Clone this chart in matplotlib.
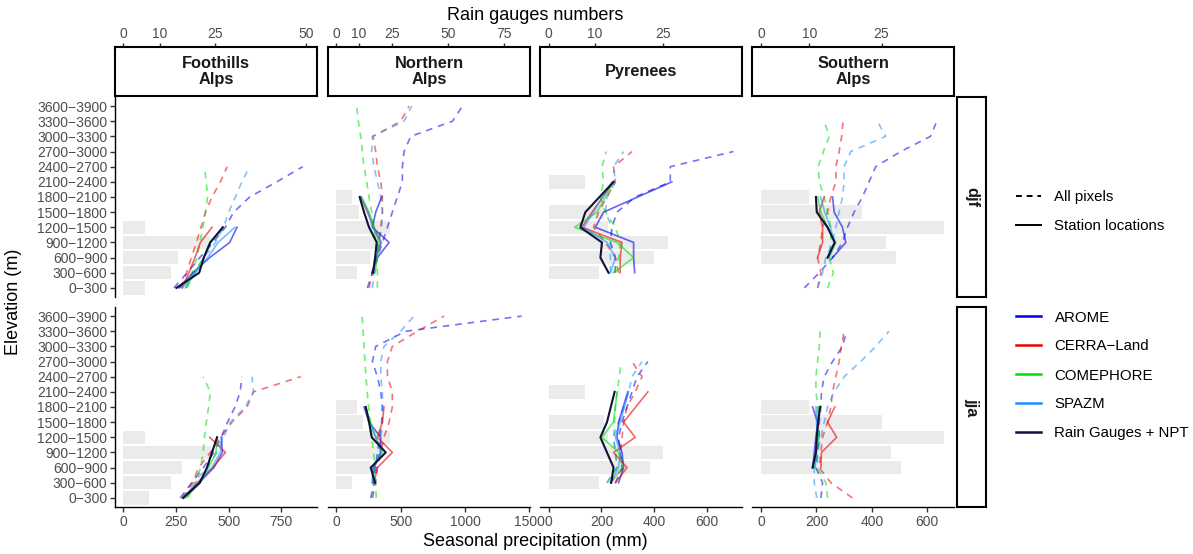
import numpy as np
import matplotlib.pyplot as plt
from matplotlib.lines import Line2D

plt.rcParams['font.family'] = ['Liberation Sans', 'DejaVu Sans']

# Elevation bands (bottom to top)
bands = ["0\u2212300", "300\u2212600", "600\u2212900", "900\u22121200", "1200\u22121500",
         "1500\u22121800", "1800\u22122100", "2100\u22122400", "2400\u22122700", "2700\u22123000",
         "3000\u22123300", "3300\u22123600", "3600\u22123900"]
regions = ["Foothills\nAlps", "Northern\nAlps", "Pyrenees", "Southern\nAlps"]
seasons = ["djf", "jja"]
products = ["AROME", "CERRA\u2212Land", "COMEPHORE", "SPAZM"]
colors = {"AROME": "#0000EE", "CERRA\u2212Land": "#EE0000", "COMEPHORE": "#00E000",
          "SPAZM": "#1E90FF", "Rain Gauges + NPT": "#10103A"}
N = None

# number of rain gauges per band, and the scale used to draw them on the precip axis
gauge_scale = 17.4
foot_djf_gauges = [6, 13, 15, 24, 6, 0, 0, 0, 0, 0, 0, 0, 0]
foot_jja_gauges = [7, 13, 16, 24, 6, 0, 0, 0, 0, 0, 0, 0, 0]
north_djf_gauges = [0, 9, 15, 20, 24, 10, 7, 0, 0, 0, 0, 0, 0]
north_jja_gauges = [0, 7, 15, 20, 24, 12, 9, 0, 0, 0, 0, 0, 0]
pyr_djf_gauges = [0, 11, 23, 26, 13, 12, 0, 8, 0, 0, 0, 0, 0]
pyr_jja_gauges = [0, 11, 22, 25, 13, 12, 0, 8, 0, 0, 0, 0, 0]
south_djf_gauges = [0, 0, 28, 26, 38, 21, 10, 0, 0, 0, 0, 0, 0]
south_jja_gauges = [0, 0, 29, 27, 38, 25, 10, 0, 0, 0, 0, 0, 0]

# ---- Foothills Alps ----
foot_djf_pix = {
    "AROME": [240, 303, 363, 426, 484, 524, 600, 729, 852, N, N, N, N],
    "CERRA\u2212Land": [271, 300, 323, 347, 369, 390, 421, 461, 493, N, N, N, N],
    "COMEPHORE": [295, 326, 350, 363, 378, 390, 400, 394, 385, N, N, N, N],
    "SPAZM": [303, 334, 382, 437, 476, 500, 532, 563, 600, N, N, N, N]}
foot_djf_sta = {
    "AROME": [265, 330, 410, 505, 540, N, N, N, N, N, N, N, N],
    "CERRA\u2212Land": [279, 311, 340, 366, 421, N, N, N, N, N, N, N, N],
    "COMEPHORE": [295, 342, 382, 410, 476, N, N, N, N, N, N, N, N],
    "SPAZM": [280, 340, 400, 450, 530, N, N, N, N, N, N, N, N],
    "Rain Gauges + NPT": [252, 360, 382, 413, 472, N, N, N, N, N, N, N, N]}
foot_jja_pix = {
    "AROME": [270, 325, 380, 430, 465, 495, 530, 555, 563, N, N, N, N],
    "CERRA\u2212Land": [279, 327, 358, 413, 461, 516, 587, 618, 843, N, N, N, N],
    "COMEPHORE": [306, 342, 366, 379, 385, 394, 405, 413, 379, N, N, N, N],
    "SPAZM": [287, 334, 397, 445, 476, 508, 579, 618, 611, N, N, N, N]}
foot_jja_sta = {
    "AROME": [285, 360, 430, 470, 465, N, N, N, N, N, N, N, N],
    "CERRA\u2212Land": [285, 350, 425, 485, 410, N, N, N, N, N, N, N, N],
    "COMEPHORE": [295, 365, 405, 440, 445, N, N, N, N, N, N, N, N],
    "SPAZM": [280, 355, 420, 460, 470, N, N, N, N, N, N, N, N],
    "Rain Gauges + NPT": [284, 363, 397, 421, 445, N, N, N, N, N, N, N, N]}

# ---- Northern Alps ----
north_djf_pix = {
    "AROME": [241, 280, 319, 358, 397, 435, 474, 513, 513, 526, 578, 902, 980],
    "CERRA\u2212Land": [254, 280, 306, 327, 345, 358, 358, 345, 319, 306, 285, 500, 565],
    "COMEPHORE": [319, 319, 314, 306, 293, 275, 254, 236, 215, 202, 189, 171, 158],
    "SPAZM": [280, 293, 311, 332, 352, 358, 345, 319, 293, 275, 280, 526, 586]}
north_djf_sta = {
    "AROME": [N, 275, 319, 410, 280, 306, 352, N, N, N, N, N, N],
    "CERRA\u2212Land": [N, 280, 311, 345, 293, 241, 189, N, N, N, N, N, N],
    "COMEPHORE": [N, 301, 319, 332, 293, 254, 197, N, N, N, N, N, N],
    "SPAZM": [N, 293, 306, 352, 280, 249, 189, N, N, N, N, N, N],
    "Rain Gauges + NPT": [N, 285, 301, 314, 254, 215, 181, N, N, N, N, N, N]}
north_jja_pix = {
    "AROME": [267, 293, 306, 319, 337, 352, 358, 345, 319, 280, 306, 539, 1440],
    "CERRA\u2212Land": [280, 306, 319, 345, 370, 410, 435, 435, 397, 397, 435, 630, 837],
    "COMEPHORE": [310, 305, 300, 290, 275, 262, 250, 240, 230, 222, 215, 208, 200],
    "SPAZM": [280, 293, 306, 327, 345, 358, 358, 358, 345, 345, 370, 500, 604]}
north_jja_sta = {
    "AROME": [N, 280, 293, 345, 345, 254, 215, N, N, N, N, N, N],
    "CERRA\u2212Land": [N, 293, 319, 435, 319, 358, 370, N, N, N, N, N, N],
    "COMEPHORE": [N, 301, 280, 358, 306, 267, 228, N, N, N, N, N, N],
    "SPAZM": [N, 280, 280, 345, 306, 254, 228, N, N, N, N, N, N],
    "Rain Gauges + NPT": [N, 301, 267, 384, 275, 254, 228, N, N, N, N, N, N]}

# ---- Pyrenees ----
pyr_djf_pix = {
    "AROME": [N, 253, 253, 234, 240, 259, 328, 461, 461, 700, N, N, N],
    "CERRA\u2212Land": [N, 265, 253, 215, 170, 189, 221, 253, 246, 316, N, N, N],
    "COMEPHORE": [N, 246, 265, 271, 253, 215, 196, 208, 202, 218, N, N, N],
    "SPAZM": [N, 234, 234, 234, 240, 215, 221, 253, 246, 284, N, N, N]}
pyr_djf_sta = {
    "AROME": [N, 326, 322, 322, 177, 208, N, 467, N, N, N, N, N],
    "CERRA\u2212Land": [N, 271, 271, 278, 126, 164, N, 246, N, N, N, N, N],
    "COMEPHORE": [N, 246, 322, 259, 98, 183, N, 246, N, N, N, N, N],
    "SPAZM": [N, 234, 253, 221, 133, 170, N, 240, N, N, N, N, N],
    "Rain Gauges + NPT": [N, 227, 196, 202, 120, 139, N, 246, N, N, N, N, N]}
pyr_jja_pix = {
    "AROME": [N, 253, 278, 271, 265, 278, 297, 316, 335, 376, N, N, N],
    "CERRA\u2212Land": [N, 234, 284, 271, 278, 284, 297, 328, 354, 316, N, N, N],
    "COMEPHORE": [N, 221, 259, 253, 246, 250, 253, 259, 268, 275, N, N, N],
    "SPAZM": [N, 221, 259, 253, 246, 265, 284, 303, 316, 354, N, N, N]}
pyr_jja_sta = {
    "AROME": [N, 265, 284, 278, 259, 265, N, 300, N, N, N, N, N],
    "CERRA\u2212Land": [N, 253, 297, 246, 328, 284, N, 376, N, N, N, N, N],
    "COMEPHORE": [N, 234, 280, 265, 202, 245, N, 260, N, N, N, N, N],
    "SPAZM": [N, 234, 265, 271, 253, 271, N, 303, N, N, N, N, N],
    "Rain Gauges + NPT": [N, 237, 246, 221, 196, 221, N, 250, N, N, N, N, N]}

# ---- Southern Alps ----
south_djf_pix = {
    "AROME": [156, 210, 258, 294, 312, 336, 366, 390, 414, 504, 612, 635, N],
    "CERRA\u2212Land": [204, 216, 204, 216, 222, 240, 252, 270, 270, 282, 291, 296, N],
    "COMEPHORE": [240, 261, 246, 252, 252, 240, 228, 210, 206, 225, 246, 228, N],
    "SPAZM": [204, 222, 234, 258, 270, 282, 294, 300, 300, 324, 450, 420, N]}
south_djf_sta = {
    "AROME": [N, N, 258, 306, 294, 264, 258, N, N, N, N, N, N],
    "CERRA\u2212Land": [N, N, 204, 222, 222, 210, 228, N, N, N, N, N, N],
    "COMEPHORE": [N, N, 246, 270, 240, 216, 204, N, N, N, N, N, N],
    "SPAZM": [N, N, 245, 265, 250, 230, 215, N, N, N, N, N, N],
    "Rain Gauges + NPT": [N, N, 240, 266, 240, 201, 198, N, N, N, N, N, N]}
south_jja_pix = {
    "AROME": [216, 222, 198, 204, 210, 210, 216, 218, 228, 258, 294, 309, N],
    "CERRA\u2212Land": [330, 252, 210, 216, 222, 240, 252, 258, 270, 282, 290, 300, N],
    "COMEPHORE": [240, 234, 204, 204, 206, 210, 206, 198, 198, 204, 210, 213, N],
    "SPAZM": [201, 192, 192, 204, 216, 228, 240, 264, 300, 360, 414, 462, N]}
south_jja_sta = {
    "AROME": [N, N, 186, 192, 198, 204, 186, N, N, N, N, N, N],
    "CERRA\u2212Land": [N, N, 216, 218, 273, 240, 266, N, N, N, N, N, N],
    "COMEPHORE": [N, N, 192, 198, 210, 205, 204, N, N, N, N, N, N],
    "SPAZM": [N, N, 195, 200, 205, 200, 198, N, N, N, N, N, N],
    "Rain Gauges + NPT": [N, N, 186, 198, 201, 206, 213, N, N, N, N, N, N]}

panels = {
    ("djf", 0): (foot_djf_gauges, foot_djf_pix, foot_djf_sta),
    ("djf", 1): (north_djf_gauges, north_djf_pix, north_djf_sta),
    ("djf", 2): (pyr_djf_gauges, pyr_djf_pix, pyr_djf_sta),
    ("djf", 3): (south_djf_gauges, south_djf_pix, south_djf_sta),
    ("jja", 0): (foot_jja_gauges, foot_jja_pix, foot_jja_sta),
    ("jja", 1): (north_jja_gauges, north_jja_pix, north_jja_sta),
    ("jja", 2): (pyr_jja_gauges, pyr_jja_pix, pyr_jja_sta),
    ("jja", 3): (south_jja_gauges, south_jja_pix, south_jja_sta),
}

xlims = [(-40, 920), (-65, 1505), (-33, 733), (-33, 697)]
bottom_ticks = [[0, 250, 500, 750], [0, 500, 1000, 1500], [0, 200, 400, 600], [0, 200, 400, 600]]
top_ticks = [[0, 10, 25, 50], [0, 10, 25, 50, 75], [0, 10, 25], [0, 10, 25]]

# layout in pixels
W, H = 1193, 554
col_x = [115, 328, 540, 752]
col_w = 202
row_y = [97, 307]
row_h = 200
tick_col = '#4D4D4D'
tick_fs = 10
strip_fs = 11.8


def fig_rect(x, y, w, h):
    return [x / W, 1 - (y + h) / H, w / W, h / H]


fig = plt.figure(figsize=(W / 100, H / 100), dpi=100)
ypos = np.arange(len(bands))
dash = (0, (4, 3.5))

for r, season in enumerate(seasons):
    for c in range(4):
        gauges, pix, sta = panels[(season, c)]
        ax = fig.add_axes(fig_rect(col_x[c], row_y[r], col_w, row_h))
        ax.barh(ypos, np.array(gauges) * gauge_scale, height=0.88, color='#EBEBEB', zorder=1)

        for p in products:
            v = np.array(pix[p], dtype=float)
            ok = ~np.isnan(v)
            ax.plot(v[ok], ypos[ok], color=colors[p], ls=dash, lw=1.2, alpha=0.55, zorder=2)
        for p in products:
            v = np.array(sta[p], dtype=float)
            ok = ~np.isnan(v)
            ax.plot(v[ok], ypos[ok], color=colors[p], lw=1.2, alpha=0.6, zorder=3)
        v = np.array(sta["Rain Gauges + NPT"], dtype=float)
        ok = ~np.isnan(v)
        ax.plot(v[ok], ypos[ok], color=colors["Rain Gauges + NPT"], lw=1.5, zorder=4)

        ax.set_xlim(xlims[c])
        ax.set_ylim(-0.6, 12.6)
        for s in ['top', 'right']:
            ax.spines[s].set_visible(False)
        ax.spines['left'].set_visible(c == 0)
        ax.spines['bottom'].set_visible(r == 1)
        ax.spines['left'].set_linewidth(1.0)
        ax.spines['bottom'].set_linewidth(1.0)
        ax.set_yticks(ypos)
        ax.set_xticks(bottom_ticks[c])
        ax.tick_params(axis='both', colors='#333333', labelcolor=tick_col, labelsize=tick_fs,
                       length=3.5, width=1.0, pad=2)
        if c == 0:
            ax.set_yticklabels(bands)
        else:
            ax.tick_params(axis='y', left=False, labelleft=False)
        if r == 0:
            ax.tick_params(axis='x', bottom=False, labelbottom=False)

        # region strip + rain gauge axis on top
        if r == 0:
            hx = fig.add_axes(fig_rect(col_x[c], 47, col_w, 49))
            hx.set_xlim(xlims[c])
            hx.set_ylim(0, 1)
            hx.set_xticks([])
            hx.set_yticks([])
            for s in hx.spines.values():
                s.set_linewidth(1.5)
            hx.text(0.5, 0.5, regions[c], transform=hx.transAxes, ha='center', va='center',
                    fontsize=strip_fs, fontweight='bold', color='#1A1A1A', linespacing=1.1)
            sec = hx.secondary_xaxis('top', functions=(lambda v: v / gauge_scale,
                                                       lambda v: v * gauge_scale))
            sec.set_xticks(top_ticks[c])
            sec.spines['top'].set_visible(False)
            sec.tick_params(colors='#333333', labelcolor=tick_col, labelsize=tick_fs,
                            length=3, width=1.0, pad=1.5)

    # season strip on the right
    sx = fig.add_axes(fig_rect(957, row_y[r], 29, row_h))
    sx.set_xticks([])
    sx.set_yticks([])
    for s in sx.spines.values():
        s.set_linewidth(1.5)
    sx.text(0.5, 0.5, season, transform=sx.transAxes, rotation=-90, ha='center', va='center',
            fontsize=strip_fs, fontweight='bold', color='#1A1A1A')

fig.text(535 / W, 1 - 541 / H, "Seasonal precipitation (mm)", ha='center', va='center', fontsize=13)
fig.text(535 / W, 1 - 16 / H, "Rain gauges numbers", ha='center', va='center', fontsize=13)
fig.text(14 / W, 1 - 302 / H, "Elevation (m)", ha='center', va='center', rotation=90, fontsize=13)

lt_handles = [Line2D([], [], color='black', ls=(0, (3, 2.5)), lw=1.4),
              Line2D([], [], color='black', lw=1.4)]
fig.legend(lt_handles, ["All pixels", "Station locations"], loc='center left',
           bbox_to_anchor=(1008 / W, 1 - 212 / H), frameon=False, fontsize=10.8,
           handlelength=1.7, handletextpad=0.9, labelspacing=1.0, borderpad=0)

col_names = products + ["Rain Gauges + NPT"]
col_handles = [Line2D([], [], color=colors[p], lw=1.8) for p in col_names]
fig.legend(col_handles, col_names, loc='center left',
           bbox_to_anchor=(1008 / W, 1 - 375.5 / H), frameon=False, fontsize=10.8,
           handlelength=1.7, handletextpad=0.9, labelspacing=1.0, borderpad=0)

fig.savefig("out.png", dpi=100)
